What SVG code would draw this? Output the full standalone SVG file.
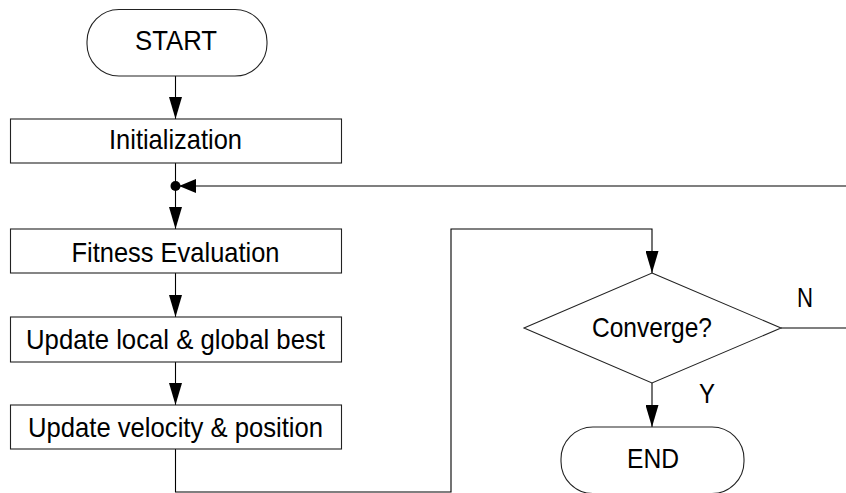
<svg xmlns="http://www.w3.org/2000/svg" width="846" height="493" viewBox="0 0 846 493">
  <style>
    .box { fill: #ffffff; stroke: #222; stroke-width: 1.1; }
    .ln { fill: none; stroke: #000; stroke-width: 1.1; }
    .t { font-family: "Liberation Sans", Arial, sans-serif; font-size: 28px; fill: #000; text-anchor: middle; }
  </style>
  <defs>
    <marker id="arr" viewBox="0 0 22 13" refX="22" refY="6.5" markerWidth="22" markerHeight="13" markerUnits="userSpaceOnUse" orient="auto">
      <path d="M0,0 L22,6.5 L0,13 Z" fill="#000"/>
    </marker>
    <marker id="arrL" viewBox="0 0 17 14" refX="17" refY="7" markerWidth="17" markerHeight="14" markerUnits="userSpaceOnUse" orient="auto">
      <path d="M0,0 L17,7 L0,14 Z" fill="#000"/>
    </marker>
  </defs>
  <rect width="846" height="493" fill="#ffffff"/>

  <g id="connectors">
    <path class="ln" d="M175.5,76 L175.5,119" marker-end="url(#arr)"/>
    <path class="ln" d="M175.5,163 L175.5,229" marker-end="url(#arr)"/>
    <path class="ln" d="M846,186 L179,186" marker-end="url(#arrL)"/>
    <circle cx="175.5" cy="186" r="5" fill="#000"/>
    <path class="ln" d="M175.5,273 L175.5,317" marker-end="url(#arr)"/>
    <path class="ln" d="M175.5,362 L175.5,405" marker-end="url(#arr)"/>
    <path class="ln" d="M175.5,449 L175.5,492 L451,492 L451,229 L652,229 L652,273" marker-end="url(#arr)"/>
    <path class="ln" d="M781,328 L846,328"/>
    <path class="ln" d="M652,383 L652,427" marker-end="url(#arr)"/>
    <text class="t" x="805" y="307" textLength="16" lengthAdjust="spacingAndGlyphs">N</text>
    <text class="t" x="707" y="403" textLength="16" lengthAdjust="spacingAndGlyphs">Y</text>
  </g>

  <g id="start">
    <rect class="box" x="87" y="9.5" width="180" height="66.5" rx="32" ry="32"/>
    <text class="t" x="176" y="50" textLength="82" lengthAdjust="spacingAndGlyphs">START</text>
  </g>
  <g id="init">
    <rect class="box" x="10.5" y="119" width="331" height="44"/>
    <text class="t" x="175.5" y="149" textLength="133" lengthAdjust="spacingAndGlyphs">Initialization</text>
  </g>
  <g id="fitness">
    <rect class="box" x="10.5" y="229" width="331" height="44"/>
    <text class="t" x="175.5" y="262" textLength="208" lengthAdjust="spacingAndGlyphs">Fitness Evaluation</text>
  </g>
  <g id="update-best">
    <rect class="box" x="10.5" y="317" width="331" height="45"/>
    <text class="t" x="175.5" y="349" textLength="299" lengthAdjust="spacingAndGlyphs">Update local &amp; global best</text>
  </g>
  <g id="update-velocity">
    <rect class="box" x="10.5" y="405" width="331" height="44"/>
    <text class="t" x="175.5" y="437" textLength="295" lengthAdjust="spacingAndGlyphs">Update velocity &amp; position</text>
  </g>
  <g id="converge">
    <polygon class="box" points="652,273 781,328 652,383 524,328"/>
    <text class="t" x="652" y="337" textLength="120" lengthAdjust="spacingAndGlyphs">Converge?</text>
  </g>
  <g id="end">
    <rect class="box" x="561" y="427" width="183" height="66.5" rx="32" ry="32"/>
    <text class="t" x="653" y="468" textLength="52" lengthAdjust="spacingAndGlyphs">END</text>
  </g>
</svg>
